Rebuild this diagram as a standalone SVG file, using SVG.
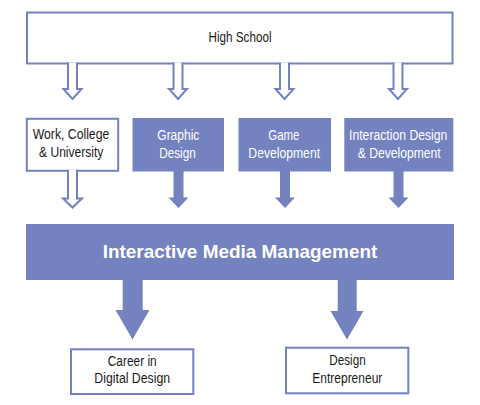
<svg xmlns="http://www.w3.org/2000/svg" width="480" height="405" viewBox="0 0 480 405">
<style>
.ob{fill:#fff;stroke:#7482C0;stroke-width:2}
.fb{fill:#7482C0}
.oa{fill:#fff;stroke:#7482C0;stroke-width:2;stroke-linejoin:miter}
.fa{fill:#7482C0}
.t{font-family:"Liberation Sans",Arial,sans-serif;font-size:14px;text-anchor:middle}
.dk{fill:#1a1a1a}
.wt{fill:#fff}
.title{font-family:"Liberation Sans",Arial,sans-serif;font-size:18.5px;font-weight:bold;fill:#fff;text-anchor:middle}
</style>
<rect width="480" height="405" fill="#fff"/>
<g id="high-school">
<rect class="ob" x="27" y="12.5" width="425.5" height="51"/>
<text class="t dk" x="240" y="42.3" textLength="63" lengthAdjust="spacingAndGlyphs">High School</text>
</g>
<g id="work-college">
<rect class="ob" x="26.8" y="118.8" width="91.4" height="52"/>
<text class="t dk" x="71" y="139.3" textLength="76.6" lengthAdjust="spacingAndGlyphs">Work, College</text>
<text class="t dk" x="71.2" y="156.7" textLength="64.3" lengthAdjust="spacingAndGlyphs">&amp; University</text>
</g>
<g id="graphic-design">
<rect class="fb" x="132.5" y="118" width="91.5" height="53.5"/>
<text class="t wt" x="178.3" y="140.3" textLength="42" lengthAdjust="spacingAndGlyphs">Graphic</text>
<text class="t wt" x="177.5" y="157.7" textLength="36.7" lengthAdjust="spacingAndGlyphs">Design</text>
</g>
<g id="game-development">
<rect class="fb" x="238.5" y="118" width="92.5" height="53.5"/>
<text class="t wt" x="283.8" y="140.3" textLength="31" lengthAdjust="spacingAndGlyphs">Game</text>
<text class="t wt" x="284.2" y="157.7" textLength="71.7" lengthAdjust="spacingAndGlyphs">Development</text>
</g>
<g id="interaction-design">
<rect class="fb" x="344.3" y="118" width="109" height="53.5"/>
<text class="t wt" x="398.2" y="140.3" textLength="98.3" lengthAdjust="spacingAndGlyphs">Interaction Design</text>
<text class="t wt" x="399.2" y="157.7" textLength="83" lengthAdjust="spacingAndGlyphs">&amp; Development</text>
</g>
<g id="imm">
<rect class="fb" x="26" y="224" width="428" height="56"/>
<text class="title" x="240" y="258.3" textLength="274.7" lengthAdjust="spacingAndGlyphs">Interactive Media Management</text>
</g>
<g id="career">
<rect class="ob" x="71" y="349.3" width="122.3" height="44.7"/>
<text class="t dk" x="132.2" y="365.7" textLength="49" lengthAdjust="spacingAndGlyphs">Career in</text>
<text class="t dk" x="132.2" y="383.3" textLength="75.7" lengthAdjust="spacingAndGlyphs">Digital Design</text>
</g>
<g id="entrepreneur">
<rect class="ob" x="286" y="347.7" width="122.3" height="45.6"/>
<text class="t dk" x="347.5" y="365" textLength="36.3" lengthAdjust="spacingAndGlyphs">Design</text>
<text class="t dk" x="347.3" y="382.7" textLength="70" lengthAdjust="spacingAndGlyphs">Entrepreneur</text>
</g>
<g id="connectors">
<path class="oa" d="M68,62.5 V89 H63.5 L72.5,99 L81.5,89 H77 V62.5"/>
<path class="oa" d="M173.5,62.5 V89 H169 L178,99 L187,89 H182.5 V62.5"/>
<path class="oa" d="M280,62.5 V89 H275.5 L284.5,99 L293.5,89 H289 V62.5"/>
<path class="oa" d="M393.5,62.5 V89 H389 L398,99 L407,89 H402.5 V62.5"/>
<path class="oa" d="M68,169.8 V198.5 H63 L72.5,207.5 L82,198.5 H77 V169.8"/>
<polygon class="fa" points="173.5,171 183.5,171 183.5,197.5 188.5,197.5 178.5,208 168.5,197.5 173.5,197.5"/>
<polygon class="fa" points="280,171 290,171 290,197.5 295,197.5 285,208 275,197.5 280,197.5"/>
<polygon class="fa" points="393.5,171 403.5,171 403.5,197.5 408.5,197.5 398.5,208 388.5,197.5 393.5,197.5"/>
<polygon class="fa" points="122.7,279 142.7,279 142.7,310 149.5,310 132.5,339.5 115.5,310 122.7,310"/>
<polygon class="fa" points="337.7,279 356.7,279 356.7,311 363.5,311 347,339.5 330.5,311 337.7,311"/>
</g>
</svg>
